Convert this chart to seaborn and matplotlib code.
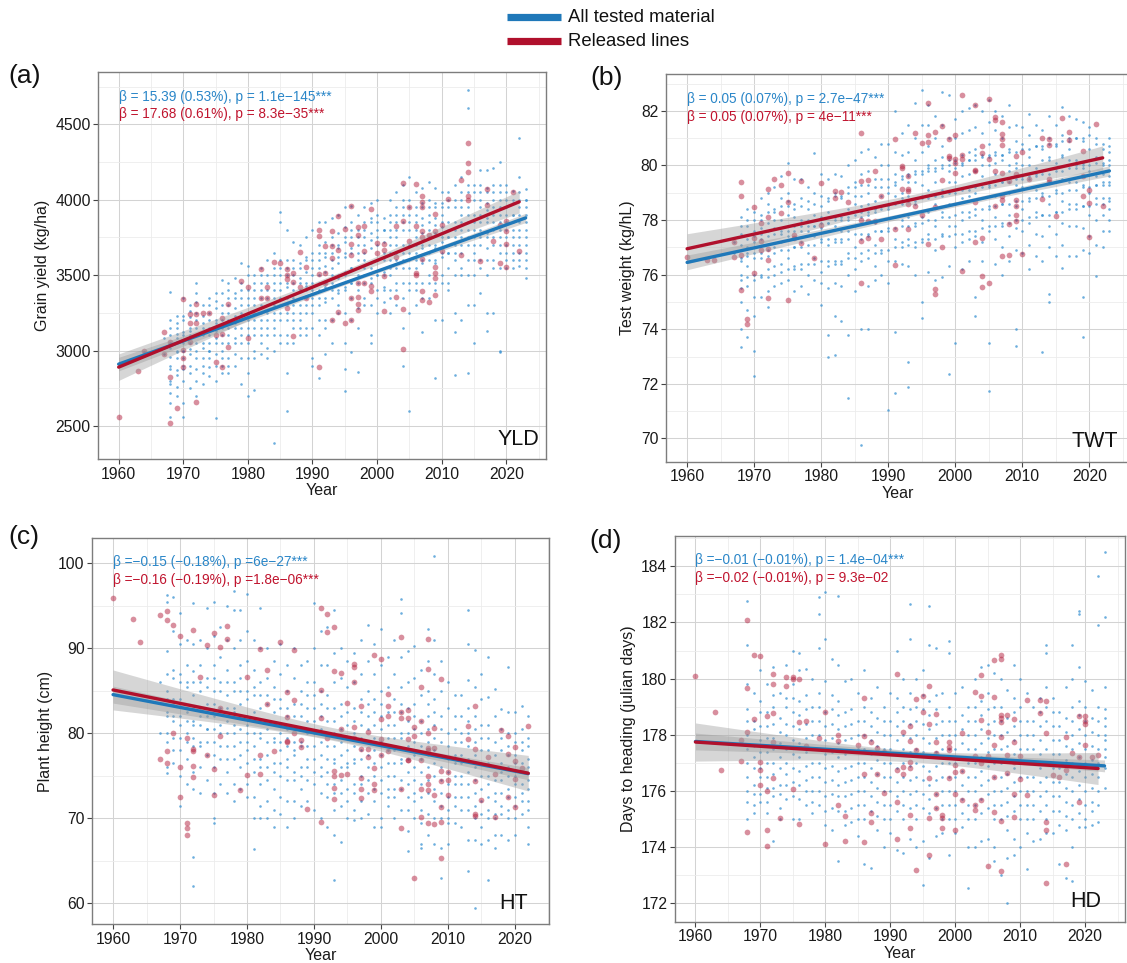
import numpy as np
import pandas as pd
import matplotlib
matplotlib.use("Agg")
import matplotlib.pyplot as plt
from matplotlib.ticker import MultipleLocator
from matplotlib.lines import Line2D
import seaborn as sns

# ---------------------------------------------------------------- data
# Grain yield (kg/ha): scattered lines per year, plus the dense core of each year
yld_all = {
    1964: [2990], 1967: [3080, 2980],
    1968: [3390, 3200, 3050, 2880, 2800, 2720, 2650, 2560, 2960, 3100],
    1969: [3230, 3150, 3000, 2870, 2760, 2700, 3080, 2950],
    1970: [3350, 3200, 3100, 3000, 2900, 2800, 2650, 2560, 3050, 2950],
    1971: [3300, 3220, 3150, 3050, 2980, 2900, 2750, 3100],
    1972: [3450, 3320, 3200, 3100, 3000, 2880, 2700, 3150, 3250],
    1973: [3300, 3180, 3050, 2950, 2850, 2780, 3100],
    1974: [3350, 3250, 3150, 3050, 2950, 2830, 3200, 3000],
    1975: [3380, 3280, 3180, 3080, 2980, 2800, 2550, 3130],
    1976: [3470, 3380, 3250, 3150, 3050, 2950, 2850, 3200],
    1977: [3450, 3350, 3250, 3150, 3050, 2950, 2850, 3300],
    1978: [3480, 3380, 3280, 3180, 3080, 2980, 3230],
    1979: [3580, 3450, 3350, 3250, 3150, 3050, 2780, 3300],
    1980: [3560, 3500, 3400, 3300, 3200, 3100, 2950, 2700, 3250],
    1981: [3500, 3400, 3300, 3200, 3100, 3000, 2740, 3350],
    1982: [3550, 3450, 3350, 3250, 3150, 3050, 3300, 3400],
    1983: [3600, 3500, 3400, 3300, 3200, 3100, 2950, 3350],
    1984: [3650, 3550, 3450, 3350, 3250, 3150, 3000, 2390, 3400],
    1985: [3920, 3850, 3600, 3500, 3400, 3300, 3200, 3050, 3450],
    1986: [3800, 3600, 3500, 3420, 3350, 3250, 3100, 2850, 2600, 3450],
    1987: [3720, 3600, 3500, 3400, 3300, 3200, 3050, 3450],
    1988: [3700, 3580, 3480, 3400, 3300, 3200, 3100, 3450],
    1989: [3750, 3620, 3520, 3430, 3350, 3250, 3150, 3450],
    1990: [3800, 3650, 3550, 3450, 3350, 3250, 2950, 2900, 3500],
    1991: [3850, 3700, 3600, 3500, 3400, 3300, 3200, 2820, 3550],
    1992: [3850, 3720, 3620, 3520, 3420, 3320, 3200, 2980, 3560],
    1993: [3880, 3750, 3650, 3550, 3450, 3350, 3050, 3600],
    1994: [3900, 3780, 3680, 3580, 3480, 3380, 3300, 3620],
    1995: [3950, 3820, 3720, 3620, 3520, 3420, 3050, 2880, 2730, 3650],
    1996: [3960, 3850, 3750, 3650, 3550, 3450, 3350, 2990, 3680],
    1997: [3900, 3800, 3700, 3600, 3500, 3400, 3280, 2860, 3650],
    1998: [3950, 3850, 3750, 3650, 3550, 3450, 3350, 3700],
    1999: [3980, 3880, 3780, 3680, 3580, 3480, 3100, 3050, 3730],
    2000: [4000, 3900, 3800, 3700, 3600, 3500, 3400, 3250, 3750],
    2001: [3880, 3800, 3720, 3620, 3520, 3420, 3320, 3650],
    2002: [4000, 3900, 3800, 3700, 3600, 3500, 3400, 3250, 3750],
    2003: [4050, 3950, 3850, 3750, 3650, 3550, 3450, 3300, 3800],
    2004: [4100, 4000, 3900, 3800, 3700, 3600, 3450, 3150, 2900, 3850],
    2005: [4150, 4000, 3900, 3800, 3700, 3600, 3450, 3250, 2600, 3850],
    2006: [4050, 3950, 3850, 3750, 3650, 3550, 3450, 3300, 3800],
    2007: [4080, 3980, 3880, 3780, 3680, 3580, 3450, 3120, 3830],
    2008: [4120, 4000, 3900, 3800, 3700, 3600, 3500, 3350, 3850],
    2009: [4080, 3980, 3880, 3780, 3680, 3580, 3450, 3200, 2820, 3830],
    2010: [4050, 3980, 3900, 3820, 3720, 3620, 3500, 3200, 3850],
    2011: [4050, 3950, 3850, 3750, 3650, 3550, 3400, 3800],
    2012: [4100, 3950, 3850, 3750, 3650, 3250, 3120, 2840, 3800],
    2013: [4150, 4050, 3950, 3850, 3750, 3650, 3500, 3200, 3900],
    2014: [4730, 4610, 4050, 3950, 3850, 3750, 3600, 3300, 2850, 3900],
    2015: [4100, 4000, 3900, 3800, 3700, 3600, 3300, 3050, 3850],
    2016: [4200, 4100, 4000, 3900, 3800, 3700, 3550, 3380, 3950],
    2017: [4200, 4080, 3980, 3880, 3780, 3680, 3500, 3250, 3130, 3930],
    2018: [4210, 4100, 4000, 3900, 3800, 3700, 3550, 3250, 3950],
    2019: [4250, 4100, 4000, 3900, 3800, 3700, 3550, 3000, 2990, 3950],
    2020: [4100, 4000, 3900, 3800, 3700, 3600, 3550, 3950],
    2021: [4060, 3980, 3900, 3800, 3700, 3600, 3550, 3850],
    2022: [4410, 4150, 4000, 3900, 3800, 3700, 3600, 3560, 3850],
    2023: [4070, 4000, 3950, 3850, 3750, 3650, 3550, 3480, 3900],
}
yld_all_core = {
    1968: [3020, 2900, 3150, 2780], 1969: [3110, 2990, 3180, 2840],
    1970: [3120, 3000, 3230, 2880], 1971: [3130, 3010, 3260, 2850],
    1972: [3050, 2950, 3380, 2800], 1973: [3150, 3020, 3230, 2900],
    1974: [3100, 3000, 3300, 2890], 1975: [3200, 3050, 3330, 2900],
    1976: [3100, 3300, 3000, 2900], 1977: [3200, 3100, 3400, 2900],
    1978: [3150, 3050, 3350, 2900], 1979: [3200, 3100, 3400, 2950],
    1980: [3150, 3350, 3050, 2850], 1981: [3250, 3150, 3450, 2950],
    1982: [3200, 3100, 3500, 2980], 1983: [3250, 3150, 3450, 3020],
    1984: [3300, 3200, 3500, 3100], 1985: [3350, 3250, 3550, 3100],
    1986: [3300, 3200, 3550, 3050], 1987: [3350, 3250, 3550, 3150],
    1988: [3350, 3250, 3550, 3150], 1989: [3400, 3300, 3600, 3100],
    1990: [3400, 3300, 3600, 3150], 1991: [3450, 3350, 3650, 3100],
    1992: [3450, 3350, 3650, 3150], 1993: [3500, 3400, 3700, 3200],
    1994: [3500, 3400, 3700, 3250], 1995: [3500, 3400, 3750, 3250],
    1996: [3550, 3450, 3800, 3200], 1997: [3550, 3450, 3750, 3150],
    1998: [3600, 3500, 3800, 3300], 1999: [3550, 3450, 3850, 3300],
    2000: [3600, 3500, 3850, 3350], 2001: [3600, 3500, 3800, 3400],
    2002: [3650, 3550, 3850, 3350], 2003: [3700, 3600, 3900, 3400],
    2004: [3650, 3550, 3950, 3350], 2005: [3650, 3550, 3950, 3400],
    2006: [3700, 3600, 3900, 3400], 2007: [3700, 3600, 3950, 3350],
    2008: [3750, 3650, 3950, 3450], 2009: [3700, 3600, 3950, 3400],
    2010: [3750, 3650, 3950, 3450], 2011: [3750, 3650, 4000, 3450],
    2012: [3700, 3600, 4000, 3500], 2013: [3800, 3700, 4000, 3550],
    2014: [3800, 3700, 4100, 3500], 2015: [3750, 3650, 4050, 3500],
    2016: [3850, 3750, 4050, 3600], 2017: [3850, 3750, 4050, 3600],
    2018: [3850, 3750, 4050, 3600], 2019: [3850, 3750, 4050, 3650],
    2020: [3850, 3750, 4050, 3650], 2021: [3900, 3750, 4000, 3650],
    2022: [3950, 3750, 4050, 3650], 2023: [3800, 3700, 4000, 3600],
}
yld_rel = {
    1960: [2560], 1963: [2867], 1964: [2997], 1967: [3125, 2975],
    1968: [3055, 2827, 2518], 1969: [2617], 1970: [3340, 3004, 2949, 2893],
    1971: [3240, 3180, 3055], 1972: [3309, 3240, 3180, 2657], 1973: [3250],
    1974: [3247], 1975: [3103, 2927], 1976: [3214, 3108, 2889],
    1977: [3309, 3026], 1979: [3464], 1980: [3420, 3081], 1982: [3539, 3346],
    1983: [3424, 3351], 1984: [3585], 1985: [3578],
    1986: [3539, 3499, 3472, 3280], 1987: [3512, 3457, 3097],
    1988: [3654, 3424], 1989: [3556, 3346], 1991: [3800, 3760, 3508, 2893],
    1992: [3693, 3517, 3446], 1993: [3791, 3693, 3616, 3203],
    1994: [3892, 3667, 3258], 1995: [3804, 3185],
    1996: [3959, 3707, 3631, 3346, 3203],
    1997: [3818, 3764, 3446, 3353, 3307, 3269], 1998: [3827, 3658, 3446],
    1999: [3939, 3431, 3395], 2000: [3711, 3645],
    2001: [3704, 3667, 3497, 3265], 2003: [3826, 3618, 3357],
    2004: [4114, 3861, 3273, 3008], 2005: [3955, 3725],
    2006: [4105, 3826, 3517, 3499],
    2007: [4025, 3985, 3955, 3791, 3751, 3605, 3395, 3335],
    2008: [3764, 3322], 2009: [3906, 3791, 3556, 3517, 3479, 3370],
    2010: [3835, 3662], 2011: [4007], 2013: [4132, 3636],
    2014: [4374, 4243, 4186, 4027, 3998], 2016: [3594], 2017: [4074, 3968],
    2018: [3729], 2019: [3583, 3830], 2020: [3857, 3791, 3704, 3556],
    2021: [4052], 2022: [3662],
}

# Test weight (kg/hL)
twt_all = {
    1967: [77.2, 76.8],
    1968: [78.1, 77.5, 76.5, 75.8, 75.0, 74.0, 73.35, 76.0],
    1969: [78.4, 77.8, 77.0, 76.3, 75.6, 74.7, 73.7, 76.8],
    1970: [78.3, 77.6, 76.8, 76.0, 75.2, 74.5, 73.2, 72.3, 77.2],
    1971: [78.8, 78.0, 77.3, 76.6, 75.9, 75.2, 77.7],
    1972: [79.0, 78.3, 77.6, 76.9, 76.2, 75.4, 74.8, 77.9],
    1973: [79.2, 78.4, 77.7, 77.0, 76.3, 75.6, 78.0],
    1974: [79.6, 78.8, 78.0, 77.2, 76.4, 75.7, 77.6],
    1975: [80.1, 79.0, 78.2, 77.4, 76.6, 75.8, 78.5],
    1976: [79.5, 78.6, 77.8, 77.0, 76.2, 75.4, 78.1],
    1977: [79.5, 78.8, 78.0, 77.2, 76.4, 75.6, 77.6],
    1978: [79.2, 78.4, 77.6, 76.8, 76.0, 75.3, 78.0],
    1979: [80.45, 79.0, 78.2, 77.4, 76.6, 75.8, 77.8],
    1980: [79.7, 78.9, 78.1, 77.3, 76.5, 75.7, 74.9, 77.7],
    1981: [79.5, 78.7, 77.9, 77.1, 76.3, 75.5, 73.8, 73.0, 78.3],
    1982: [79.7, 78.9, 78.1, 77.3, 76.5, 75.7, 74.5, 73.05, 77.8],
    1983: [79.6, 78.8, 78.0, 77.2, 76.4, 75.6, 74.3, 77.6],
    1984: [80.0, 79.2, 78.4, 77.6, 76.8, 76.0, 73.8, 71.5, 78.0],
    1985: [80.2, 79.4, 78.6, 77.8, 77.0, 76.2, 75.4, 78.9],
    1986: [80.5, 79.7, 78.9, 78.1, 77.3, 76.5, 74.0, 69.75, 78.5],
    1987: [80.6, 79.8, 79.0, 78.2, 77.4, 76.6, 75.6, 74.0, 78.6],
    1988: [80.3, 79.5, 78.7, 77.9, 77.1, 76.3, 75.8, 78.3],
    1989: [80.8, 80.0, 79.2, 78.4, 77.6, 76.8, 76.0, 78.9],
    1990: [80.8, 80.0, 79.2, 78.4, 77.6, 76.5, 75.7, 71.05, 79.0],
    1991: [82.0, 80.5, 79.7, 78.9, 78.1, 77.3, 76.5, 73.9, 71.65, 79.3],
    1992: [81.2, 80.4, 79.6, 78.8, 78.0, 77.2, 76.4, 79.0],
    1993: [81.5, 80.5, 79.7, 78.9, 78.1, 77.3, 76.3, 72.8, 71.9, 79.4],
    1994: [82.3, 81.0, 80.2, 79.4, 78.6, 77.8, 77.0, 76.0, 79.8],
    1995: [82.75, 81.5, 80.5, 79.7, 78.9, 78.1, 77.3, 75.0, 74.4, 79.3],
    1996: [82.2, 81.5, 80.7, 79.9, 79.1, 78.3, 77.5, 76.1, 80.0],
    1997: [81.8, 81.0, 80.2, 79.4, 78.6, 77.8, 76.9, 75.8, 79.8],
    1998: [82.7, 81.5, 80.7, 79.9, 79.1, 78.3, 77.5, 75.9, 80.3],
    1999: [82.6, 81.0, 80.2, 79.4, 78.6, 77.8, 76.3, 72.35, 79.8],
    2000: [81.7, 81.0, 80.2, 79.4, 78.6, 77.8, 77.0, 73.5, 79.9],
    2001: [82.0, 81.2, 80.4, 79.6, 78.8, 78.0, 77.2, 76.2, 80.0],
    2002: [82.1, 81.3, 80.5, 79.7, 78.9, 78.1, 77.3, 76.5, 80.2],
    2003: [82.2, 81.4, 80.6, 79.8, 79.0, 78.2, 77.4, 75.2, 74.5, 80.4],
    2004: [82.0, 81.2, 80.4, 79.6, 78.8, 78.0, 77.2, 76.5, 80.0],
    2005: [82.4, 81.6, 80.8, 80.0, 79.2, 78.4, 77.6, 73.5, 71.75, 80.4],
    2006: [82.0, 81.3, 80.5, 79.7, 78.9, 78.1, 77.3, 76.4, 80.1],
    2007: [81.8, 81.0, 80.2, 79.4, 78.6, 77.8, 77.0, 76.0, 80.4],
    2008: [82.2, 81.4, 80.6, 79.8, 79.0, 78.2, 77.4, 76.5, 80.0],
    2009: [81.5, 80.9, 80.1, 79.3, 78.5, 77.7, 76.9, 74.0, 73.4, 79.9],
    2010: [81.4, 80.8, 80.0, 79.2, 78.4, 77.6, 76.8, 79.6],
    2011: [81.9, 81.1, 80.3, 79.5, 78.7, 77.9, 77.1, 76.2, 80.0],
    2012: [81.5, 80.7, 79.9, 79.1, 78.3, 77.5, 76.7, 79.7],
    2013: [81.3, 80.6, 79.8, 79.0, 78.2, 77.4, 76.5, 73.15, 80.2],
    2014: [81.8, 81.0, 80.2, 79.4, 78.6, 77.8, 77.0, 75.3, 75.0, 80.3],
    2015: [81.5, 80.7, 79.9, 79.1, 78.3, 77.5, 76.7, 80.1],
    2016: [82.15, 81.1, 80.3, 79.5, 78.7, 77.9, 77.1, 76.25, 80.4],
    2017: [81.8, 81.0, 80.2, 79.4, 78.6, 77.8, 76.7, 80.6],
    2018: [81.7, 81.0, 80.2, 79.4, 78.6, 77.8, 76.7, 80.0],
    2019: [81.6, 80.9, 80.1, 79.3, 78.5, 77.7, 76.9, 75.2, 73.7, 79.9],
    2020: [81.4, 80.6, 79.8, 79.0, 78.2, 77.4, 76.8, 80.2],
    2021: [81.0, 80.3, 79.6, 78.8, 78.0, 77.1, 75.95, 79.3],
    2022: [80.6, 80.0, 79.4, 78.8, 78.2, 77.6, 77.0, 79.7],
    2023: [81.0, 80.5, 80.0, 79.3, 78.8, 78.4, 78.0, 77.6, 79.6],
}
twt_all_core = {
    1968: [77.1, 76.6, 77.8, 75.5], 1969: [77.3, 76.7, 78.0, 75.9],
    1970: [77.4, 76.6, 78.0, 75.8], 1971: [77.5, 76.8, 78.2, 76.0],
    1972: [77.4, 76.7, 78.6, 75.9], 1973: [77.5, 76.8, 78.3, 76.0],
    1974: [77.5, 76.9, 78.5, 76.1], 1975: [77.6, 76.9, 78.7, 76.2],
    1976: [77.6, 77.0, 78.4, 76.3], 1977: [77.8, 77.0, 78.5, 76.2],
    1978: [77.8, 77.1, 78.7, 76.4], 1979: [77.8, 77.1, 78.6, 76.4],
    1980: [77.9, 77.2, 78.5, 76.1], 1981: [77.9, 77.3, 78.8, 76.5],
    1982: [78.0, 77.2, 79.0, 76.4], 1983: [78.1, 77.3, 78.9, 76.5],
    1984: [78.1, 77.3, 79.0, 76.6], 1985: [78.2, 77.5, 79.2, 76.6],
    1986: [78.3, 77.5, 79.3, 76.8], 1987: [78.3, 77.5, 79.3, 76.9],
    1988: [78.4, 77.6, 79.2, 76.8], 1989: [78.5, 77.6, 79.5, 76.9],
    1990: [78.5, 77.7, 79.5, 76.9], 1991: [78.6, 77.7, 79.4, 77.0],
    1992: [78.6, 77.8, 79.5, 77.0], 1993: [78.7, 77.8, 79.6, 77.1],
    1994: [78.7, 77.9, 79.7, 77.2], 1995: [78.8, 77.9, 79.8, 77.2],
    1996: [78.8, 78.0, 79.8, 77.3], 1997: [78.9, 78.0, 79.9, 77.3],
    1998: [78.9, 78.1, 80.0, 77.4], 1999: [79.0, 78.1, 80.0, 77.4],
    2000: [79.0, 78.2, 80.1, 77.5], 2001: [79.1, 78.3, 80.1, 77.5],
    2002: [79.1, 78.3, 80.2, 77.6], 2003: [79.2, 78.4, 80.2, 77.6],
    2004: [79.2, 78.4, 80.3, 77.7], 2005: [79.3, 78.5, 80.3, 77.8],
    2006: [79.3, 78.5, 80.4, 77.8], 2007: [79.4, 78.6, 80.4, 77.9],
    2008: [79.4, 78.6, 80.5, 77.9], 2009: [79.5, 78.7, 80.5, 78.0],
    2010: [79.5, 78.7, 80.6, 78.0], 2011: [79.6, 78.8, 80.6, 78.1],
    2012: [79.6, 78.8, 80.7, 78.1], 2013: [79.7, 78.9, 80.7, 78.2],
    2014: [79.7, 78.9, 80.8, 78.2], 2015: [79.8, 79.0, 80.8, 78.3],
    2016: [79.8, 79.0, 80.9, 78.3], 2017: [79.9, 79.1, 80.9, 78.4],
    2018: [79.9, 79.1, 81.0, 78.4], 2019: [80.0, 79.2, 81.0, 78.5],
    2020: [80.0, 79.2, 81.1, 78.5], 2021: [80.1, 79.3, 80.8, 78.6],
    2022: [80.1, 79.3, 80.8, 78.6], 2023: [80.2, 79.4, 80.7, 78.7],
}
twt_rel = {
    1960: [76.65], 1963: [76.54], 1964: [76.54], 1967: [76.63, 77.19],
    1968: [79.4, 78.87, 76.72, 75.44], 1969: [74.36, 74.18],
    1970: [78.48, 77.33, 76.07], 1971: [77.89, 77.25, 76.91],
    1972: [79.13, 78.13, 76.94, 76.52, 75.15], 1973: [79.52],
    1974: [79.3, 78.26], 1975: [79.73, 78.66, 75.09], 1976: [77.45, 77.36],
    1977: [79.45, 77.17], 1979: [76.6], 1980: [79.35, 77.82],
    1982: [79.07, 78.8], 1983: [79.02], 1984: [78.66],
    1986: [81.2, 79.42, 78.01, 77.24, 75.7], 1987: [79.48, 77.95, 77.34],
    1988: [79.79, 77.95], 1989: [78.9, 77.31], 1991: [80.96, 77.67, 76.36],
    1992: [79.98, 79.91, 79.14], 1993: [79.6, 79.14, 79.06, 78.6, 77.69],
    1994: [81.18, 78.5], 1995: [80.81, 78.2], 1996: [82.3, 81.1, 80.86, 77.13],
    1997: [81.23, 78.47, 75.46, 75.31], 1998: [81.45, 79.48, 77.0],
    1999: [80.98, 80.34, 80.29], 2000: [81.1, 80.25, 80.1, 79.73],
    2001: [82.59, 80.37, 80.22, 76.15],
    2003: [82.21, 79.85, 79.78, 78.65, 77.18],
    2004: [80.71, 80.47, 77.34, 75.95, 75.56], 2005: [82.45, 80.22, 75.68],
    2006: [81.79, 81.67, 79.79, 78.5],
    2007: [81.6, 81.14, 80.96, 80.76, 79.71, 78.87, 78.75, 76.69],
    2008: [79.42, 77.86, 76.72], 2009: [80.34, 79.67, 78.75, 78.5, 78.2, 77.95],
    2010: [80.49, 76.76], 2011: [79.51], 2013: [81.02, 78.77],
    2014: [80.98, 80.76, 79.51, 79.39], 2015: [78.16], 2016: [81.74],
    2017: [81.23, 80.92], 2019: [80.53, 79.6, 78.87],
    2020: [79.12, 78.63, 77.37], 2021: [81.51], 2022: [78.5],
}

# Plant height (cm)
ht_all = {
    1967: [86.0, 80.0],
    1968: [96.3, 95.5, 89.7, 85.0, 82.0, 79.0, 76.0, 75.3],
    1969: [96.0, 92.0, 87.5, 84.0, 81.5, 78.0, 76.5],
    1970: [94.2, 90.5, 87.0, 84.0, 81.0, 78.0, 75.0, 71.5],
    1971: [91.0, 88.0, 85.5, 82.5, 80.0, 77.0, 74.0],
    1972: [95.3, 90.5, 87.3, 84.5, 81.5, 78.5, 75.5, 73.5, 65.4, 62.0],
    1973: [91.0, 88.0, 85.0, 82.0, 79.0, 76.0, 73.0],
    1974: [94.8, 90.0, 86.5, 83.5, 80.5, 77.5, 74.5],
    1975: [95.5, 91.5, 88.0, 85.0, 82.0, 79.0, 76.0, 73.0, 70.0, 69.5],
    1976: [92.5, 89.0, 86.0, 83.0, 80.0, 77.0, 74.0],
    1977: [95.0, 91.0, 87.5, 84.5, 81.5, 78.5, 75.5, 73.0],
    1978: [96.8, 94.5, 90.0, 86.0, 83.0, 80.0, 77.0, 74.0, 72.0],
    1979: [94.5, 91.0, 88.0, 85.0, 82.0, 79.0, 76.0, 73.5],
    1980: [96.4, 92.0, 88.5, 85.0, 82.0, 79.0, 76.5, 74.0, 72.5],
    1981: [91.0, 87.5, 84.5, 81.5, 78.5, 75.5, 72.5, 70.0, 66.4],
    1982: [94.8, 90.0, 86.0, 83.0, 80.0, 77.0, 74.0, 71.5, 70.0],
    1983: [90.0, 86.5, 83.5, 80.5, 77.5, 74.5, 72.0, 70.0],
    1984: [88.5, 85.5, 82.5, 79.5, 76.5, 73.5, 71.0, 69.0],
    1985: [90.5, 87.0, 84.0, 81.0, 78.0, 75.0, 72.5, 70.5],
    1986: [88.0, 85.0, 82.0, 79.5, 77.0, 74.5, 72.0, 69.0],
    1987: [90.0, 86.5, 83.5, 80.5, 77.5, 74.5, 72.0, 70.0],
    1988: [88.0, 85.0, 82.0, 79.0, 76.0, 73.5, 71.5],
    1989: [88.5, 86.0, 83.0, 80.0, 77.0, 74.5, 72.0],
    1990: [95.3, 90.0, 86.0, 83.0, 80.0, 77.0, 74.0, 71.0],
    1991: [92.0, 88.0, 85.0, 82.0, 79.0, 76.0, 73.0, 70.0],
    1992: [92.5, 88.0, 84.5, 81.5, 78.5, 75.5, 72.5, 69.0],
    1993: [94.5, 89.5, 86.0, 83.0, 80.0, 77.0, 74.0, 71.0, 68.0, 62.7],
    1994: [90.0, 86.5, 83.5, 80.5, 77.5, 74.5, 71.5, 67.2],
    1995: [88.5, 85.5, 82.5, 79.5, 76.5, 73.5, 70.0],
    1996: [89.5, 86.0, 83.0, 80.0, 77.0, 74.0, 71.0, 69.8],
    1997: [91.0, 87.0, 84.0, 81.0, 78.0, 75.0, 72.0, 70.0],
    1998: [92.8, 88.5, 85.0, 82.0, 79.0, 76.0, 73.0, 70.5],
    1999: [90.5, 87.0, 84.0, 81.0, 78.0, 75.0, 72.0, 69.0],
    2000: [92.3, 88.0, 85.0, 82.0, 79.0, 76.0, 73.0, 70.0, 69.0],
    2001: [89.0, 85.5, 82.5, 79.5, 76.5, 73.5, 71.5],
    2002: [91.0, 87.0, 84.0, 81.0, 78.0, 75.0, 72.5, 70.0],
    2003: [95.8, 94.2, 89.0, 85.5, 82.5, 79.5, 76.5, 73.5, 71.0],
    2004: [89.7, 86.0, 83.0, 80.0, 77.0, 74.0, 71.0, 68.5, 66.2],
    2005: [90.3, 86.5, 83.5, 80.5, 77.5, 74.5, 72.0, 70.0],
    2006: [87.5, 84.5, 81.5, 78.5, 75.5, 72.5, 69.5, 67.0, 66.5],
    2007: [92.3, 88.5, 85.0, 82.0, 79.0, 76.0, 73.0, 70.5, 68.0],
    2008: [100.9, 91.0, 87.0, 84.0, 81.0, 78.0, 75.0, 72.0, 70.0, 67.0],
    2009: [88.5, 85.0, 82.0, 79.0, 76.0, 73.0, 70.0, 66.5, 63.0],
    2010: [86.0, 83.0, 80.0, 77.0, 74.0, 71.0, 69.5, 67.0],
    2011: [84.5, 82.0, 79.0, 76.5, 74.0, 71.5, 69.5],
    2012: [84.5, 82.0, 79.0, 76.5, 74.0, 71.0, 69.0],
    2013: [94.5, 90.5, 86.3, 83.0, 80.0, 77.0, 74.0, 71.0, 67.5, 63.8],
    2014: [89.8, 85.5, 82.0, 79.0, 76.0, 73.0, 70.0, 67.5, 59.5],
    2015: [87.0, 84.0, 81.0, 78.0, 75.0, 72.0, 69.0, 67.0],
    2016: [89.0, 84.3, 81.0, 78.0, 75.0, 72.5, 70.0, 67.5, 62.7],
    2017: [85.2, 82.0, 79.0, 76.0, 73.0, 70.5, 68.0, 66.5],
    2018: [82.8, 80.5, 78.0, 75.5, 73.0, 70.5, 68.0],
    2019: [87.8, 82.5, 80.0, 77.5, 75.0, 72.5, 70.0, 67.5],
    2020: [82.5, 80.0, 77.5, 75.0, 72.5, 70.0, 68.0],
    2021: [83.2, 80.5, 78.0, 75.5, 73.0, 70.5],
    2022: [82.0, 79.5, 77.0, 74.5, 72.0, 69.0, 67.0],
}
ht_all_core = {
    1968: [84.0, 82.5, 87.0, 80.0], 1969: [83.5, 82.0, 86.5, 79.5],
    1970: [83.5, 82.0, 86.0, 79.5], 1971: [83.0, 81.5, 86.0, 79.0],
    1972: [83.0, 81.0, 86.0, 79.5], 1973: [83.0, 81.0, 86.0, 78.5],
    1974: [82.0, 80.5, 85.5, 79.0], 1975: [83.5, 80.5, 86.5, 77.5],
    1976: [82.5, 81.0, 85.0, 78.5], 1977: [83.0, 80.0, 86.0, 77.0],
    1978: [82.5, 81.0, 85.0, 78.5], 1979: [83.5, 80.5, 86.5, 77.5],
    1980: [81.0, 80.0, 84.0, 78.0], 1981: [82.5, 80.0, 85.5, 77.0],
    1982: [81.5, 79.5, 84.5, 76.0], 1983: [81.5, 79.0, 84.5, 76.0],
    1984: [81.0, 79.0, 84.0, 75.5], 1985: [80.0, 79.0, 83.0, 76.5],
    1986: [80.5, 78.5, 83.0, 76.0], 1987: [79.0, 78.0, 82.0, 75.5],
    1988: [80.5, 78.5, 83.5, 75.0], 1989: [81.5, 78.5, 84.5, 76.0],
    1990: [81.5, 78.5, 84.5, 75.5], 1991: [80.5, 77.5, 83.5, 75.0],
    1992: [80.0, 77.0, 83.0, 74.0], 1993: [78.5, 76.5, 81.5, 73.0],
    1994: [79.0, 76.0, 82.0, 73.0], 1995: [78.0, 76.0, 81.0, 72.0],
    1996: [78.5, 76.5, 81.5, 73.0], 1997: [79.5, 77.0, 82.5, 74.0],
    1998: [80.5, 77.5, 83.5, 74.5], 1999: [79.5, 76.5, 82.5, 73.5],
    2000: [80.5, 77.5, 83.5, 74.5], 2001: [78.0, 75.0, 81.0, 72.5],
    2002: [79.5, 76.5, 82.5, 73.5], 2003: [80.0, 77.0, 83.5, 74.5],
    2004: [78.5, 75.5, 81.5, 72.5], 2005: [79.0, 76.0, 82.0, 73.0],
    2006: [77.0, 74.0, 80.0, 71.0], 2007: [80.5, 77.5, 83.5, 74.5],
    2008: [79.5, 76.5, 82.5, 73.5], 2009: [77.5, 74.5, 80.5, 71.5],
    2010: [75.5, 72.5, 78.5, 70.0], 2011: [77.5, 75.0, 80.5, 72.5],
    2012: [77.5, 75.0, 80.0, 72.5], 2013: [78.5, 75.5, 81.5, 72.5],
    2014: [77.5, 74.5, 80.5, 71.5], 2015: [76.5, 73.5, 79.5, 70.5],
    2016: [76.5, 74.0, 79.5, 71.0], 2017: [74.5, 72.0, 77.5, 70.0],
    2018: [76.5, 74.5, 79.5, 71.5], 2019: [76.0, 73.5, 78.5, 71.0],
    2020: [76.5, 74.0, 79.0, 71.5], 2021: [76.5, 74.0, 79.0, 72.0],
    2022: [76.0, 73.5, 78.5, 71.0],
}
ht_rel = {
    1960: [95.9], 1963: [93.45], 1964: [90.75], 1967: [93.9, 77.0],
    1968: [94.4, 93.3, 77.96, 76.47], 1969: [92.8, 80.04],
    1970: [91.4, 76.04, 72.5], 1971: [79.45, 69.5, 68.8, 68.0],
    1972: [92.1, 78.1, 77.9, 76.2, 74.8], 1973: [86.6], 1974: [90.4, 77.4],
    1975: [91.8, 75.8, 72.75], 1976: [90.2, 83.0, 79.65], 1977: [92.6, 91.1],
    1979: [73.3], 1980: [86.6, 75.1], 1982: [89.96, 77.5, 75.2],
    1983: [87.4, 83.4], 1984: [77.96], 1985: [90.7],
    1986: [84.9, 81.9, 79.1, 79.0], 1987: [89.8, 83.9, 80.0],
    1988: [79.2, 78.35], 1989: [71.1], 1991: [94.7, 85.1, 81.8, 69.6],
    1992: [94.0, 91.9, 79.5], 1993: [92.55, 87.3, 75.6, 74.98, 73.6, 72.3],
    1994: [87.1, 80.5, 75.1], 1995: [83.6, 75.2],
    1996: [88.2, 87.8, 86.0, 80.7, 79.5], 1997: [83.2, 78.2, 74.7, 73.5, 72.4],
    1998: [80.2, 78.2, 77.2], 1999: [89.25, 75.9, 74.0, 73.3],
    2000: [88.7, 81.7, 79.3, 77.5], 2001: [84.6, 83.2, 82.0, 77.9],
    2003: [91.3, 82.5, 81.8, 73.5, 68.9], 2004: [82.7, 81.8, 79.3, 76.9, 76.8],
    2005: [80.7, 79.7, 63.0], 2006: [85.5, 81.5, 76.8, 73.5, 70.2],
    2007: [91.1, 87.6, 80.0, 78.3, 78.0, 75.0, 74.0, 73.3, 69.4],
    2008: [80.6, 78.3, 72.7, 69.3], 2009: [86.4, 75.6, 74.35, 71.3, 69.6, 65.3],
    2010: [75.5, 74.55, 72.7], 2013: [80.9, 79.3],
    2014: [83.25, 78.2, 74.4, 70.5, 70.3], 2015: [72.1], 2016: [77.25],
    2017: [75.2, 70.2], 2018: [80.4], 2019: [79.7, 77.6, 72.5],
    2020: [78.35, 76.7, 74.6, 71.3], 2021: [75.9], 2022: [80.9],
}

# Days to heading (julian days)
hd_all = {
    1968: [182.75, 181.2, 179.8, 178.9, 178.0, 177.0, 176.0, 175.0],
    1969: [179.5, 178.5, 177.6, 176.8, 175.9, 175.5],
    1970: [180.3, 179.2, 178.3, 177.4, 176.5, 175.6],
    1971: [179.8, 178.8, 177.9, 177.0, 176.1, 175.2],
    1972: [180.4, 179.4, 178.4, 177.5, 176.6, 175.8, 174.2],
    1973: [179.5, 178.6, 177.7, 176.8, 175.9, 175.0],
    1974: [180.5, 179.3, 178.4, 177.5, 176.6, 175.7],
    1975: [181.0, 179.8, 178.8, 177.8, 176.8, 175.8, 175.0],
    1976: [180.9, 180.3, 179.2, 178.2, 177.2, 176.2, 175.0],
    1977: [180.35, 179.4, 178.4, 177.4, 176.4, 175.5],
    1978: [180.0, 179.0, 178.0, 177.0, 176.0, 175.2],
    1979: [182.9, 182.3, 181.1, 179.5, 178.5, 177.5, 176.5, 175.5],
    1980: [183.1, 181.4, 179.9, 178.8, 177.8, 176.8, 175.8, 174.8],
    1981: [180.7, 179.4, 178.4, 177.4, 176.4, 175.4, 174.6],
    1982: [182.95, 180.5, 179.2, 178.2, 177.2, 176.2, 175.3, 173.5],
    1983: [179.9, 178.8, 177.8, 176.8, 175.8, 174.8],
    1984: [180.0, 178.9, 177.9, 176.9, 175.9, 174.9],
    1985: [179.5, 178.5, 177.5, 176.5, 175.5, 174.4],
    1986: [180.3, 179.0, 178.0, 177.0, 176.0, 175.0, 173.4],
    1987: [179.3, 178.3, 177.3, 176.3, 175.3, 173.25],
    1988: [179.7, 178.6, 177.6, 176.6, 175.6, 174.6],
    1989: [179.0, 178.0, 177.0, 176.0, 175.0, 174.0],
    1990: [179.5, 178.5, 177.5, 176.5, 175.5, 174.5],
    1991: [181.0, 179.3, 178.3, 177.3, 176.3, 175.3, 173.9],
    1992: [180.0, 179.0, 178.0, 177.0, 176.0, 175.0, 173.8],
    1993: [182.65, 181.4, 179.5, 178.4, 177.4, 176.4, 175.4, 174.3],
    1994: [180.0, 179.0, 178.0, 177.0, 176.0, 175.0, 174.0],
    1995: [180.3, 179.4, 178.4, 177.4, 176.4, 175.4, 174.2, 172.65],
    1996: [182.6, 181.2, 179.2, 178.2, 177.2, 176.2, 175.2, 173.6],
    1997: [181.1, 179.4, 178.4, 177.4, 176.4, 175.4, 174.4],
    1998: [179.5, 178.5, 177.5, 176.5, 175.5, 174.5],
    1999: [181.35, 180.9, 179.0, 178.0, 177.0, 176.0, 175.0, 173.7],
    2000: [179.5, 178.5, 177.5, 176.5, 175.5, 174.5],
    2001: [179.7, 178.7, 177.7, 176.7, 175.7, 174.7],
    2002: [179.0, 178.0, 177.0, 176.0, 175.0, 174.0, 172.55],
    2003: [180.0, 179.0, 178.0, 177.0, 176.0, 175.0, 174.0],
    2004: [180.4, 179.2, 178.2, 177.2, 176.2, 175.2, 174.2],
    2005: [180.5, 179.5, 178.4, 177.4, 176.4, 175.4, 174.3],
    2006: [180.2, 179.0, 178.0, 177.0, 176.0, 175.0, 174.0, 173.5],
    2007: [180.0, 179.0, 178.0, 177.0, 176.0, 175.0, 173.0],
    2008: [179.6, 178.6, 177.6, 176.6, 175.6, 174.6, 173.6, 172.0],
    2009: [180.5, 179.3, 178.3, 177.3, 176.3, 175.3, 174.3, 173.7],
    2010: [180.0, 179.0, 178.0, 177.0, 176.0, 175.0, 174.0],
    2011: [179.5, 178.5, 177.5, 176.5, 175.5, 174.5, 173.2],
    2012: [179.0, 178.0, 177.0, 176.0, 175.0, 174.2],
    2013: [179.3, 178.3, 177.3, 176.3, 175.3, 174.3],
    2014: [181.2, 180.9, 179.7, 178.5, 177.5, 176.5, 175.5, 174.5],
    2015: [179.3, 178.3, 177.3, 176.3, 175.3, 174.5],
    2016: [178.8, 177.8, 176.8, 175.8, 174.8, 173.4],
    2017: [179.7, 178.6, 177.6, 176.6, 175.6, 174.6, 172.9],
    2018: [181.2, 180.0, 179.0, 178.0, 177.0, 176.0, 175.0, 174.0, 172.8],
    2019: [182.4, 182.3, 180.4, 179.2, 178.2, 177.2, 176.2, 175.2, 174.7],
    2020: [179.9, 179.0, 178.0, 177.0, 176.0, 175.0, 174.7],
    2021: [179.6, 178.6, 177.6, 176.6, 175.6, 174.8],
    2022: [183.65, 181.9, 179.0, 178.0, 177.0, 176.0, 174.9],
    2023: [184.5, 182.2, 179.7, 178.9, 178.0, 177.5, 176.8, 176.1],
}
hd_all_core = {
    1968: [177.5, 176.5, 178.5, 175.6], 1969: [177.2, 176.2, 178.2, 175.2],
    1970: [177.8, 176.8, 178.8, 175.9], 1971: [177.4, 176.5, 178.3, 175.6],
    1972: [177.9, 177.0, 179.0, 176.1], 1973: [177.2, 176.2, 178.1, 175.4],
    1974: [178.0, 177.0, 179.0, 176.2], 1975: [178.3, 177.3, 179.3, 176.3],
    1976: [177.7, 176.7, 178.7, 175.7], 1977: [177.9, 176.9, 178.9, 176.0],
    1978: [177.5, 176.5, 178.5, 175.6], 1979: [178.0, 177.0, 179.0, 176.0],
    1980: [177.3, 176.3, 178.3, 175.3], 1981: [177.9, 176.9, 178.9, 175.9],
    1982: [177.7, 176.7, 178.7, 175.8], 1983: [177.3, 176.3, 178.3, 175.3],
    1984: [177.4, 176.4, 178.4, 175.4], 1985: [177.0, 176.0, 178.0, 175.0],
    1986: [177.5, 176.5, 178.5, 175.5], 1987: [177.8, 176.8, 178.8, 175.8],
    1988: [177.1, 176.1, 178.1, 175.1], 1989: [177.5, 176.5, 178.5, 175.5],
    1990: [177.0, 176.0, 178.0, 175.0], 1991: [177.8, 176.8, 178.8, 175.8],
    1992: [177.5, 176.5, 178.5, 175.5], 1993: [177.9, 176.9, 178.9, 175.9],
    1994: [177.5, 176.5, 178.5, 175.5], 1995: [177.9, 176.9, 178.9, 175.9],
    1996: [177.7, 176.7, 178.7, 175.7], 1997: [177.9, 176.9, 178.9, 175.9],
    1998: [177.0, 176.0, 178.0, 175.0], 1999: [177.5, 176.5, 178.5, 175.5],
    2000: [177.0, 176.0, 178.0, 175.0], 2001: [177.2, 176.2, 178.2, 175.2],
    2002: [177.5, 176.5, 178.5, 175.5], 2003: [177.5, 176.5, 178.5, 175.5],
    2004: [177.7, 176.7, 178.7, 175.7], 2005: [177.9, 176.9, 178.9, 175.9],
    2006: [177.5, 176.5, 178.5, 175.5], 2007: [177.5, 176.5, 178.5, 175.5],
    2008: [177.1, 176.1, 178.1, 175.1], 2009: [177.8, 176.8, 178.8, 175.8],
    2010: [177.5, 176.5, 178.5, 175.5], 2011: [177.0, 176.0, 178.0, 175.0],
    2012: [177.5, 176.5, 178.5, 175.5], 2013: [177.8, 176.8, 178.8, 175.8],
    2014: [177.0, 176.0, 179.0, 175.0], 2015: [177.8, 176.8, 178.8, 175.8],
    2016: [177.3, 176.3, 178.3, 175.3], 2017: [177.1, 176.1, 178.1, 175.1],
    2018: [177.5, 176.5, 178.5, 175.5], 2019: [177.7, 176.7, 178.7, 175.7],
    2020: [177.5, 176.5, 178.5, 175.5], 2021: [177.1, 176.1, 178.1, 175.3],
    2022: [177.5, 176.5, 178.5, 175.5], 2023: [178.3, 177.8, 178.6, 177.2],
}
hd_rel = {
    1960: [180.1], 1963: [178.8], 1964: [176.76], 1967: [177.8, 177.05],
    1968: [182.1, 179.67, 178.09, 174.53], 1969: [180.85, 178.56],
    1970: [180.8, 177.04, 176.75, 176.21], 1971: [178.66, 176.0, 174.6, 174.02],
    1972: [180.17, 179.8, 178.77, 177.73, 176.45], 1973: [175.03],
    1974: [180.05, 179.75], 1975: [180.05, 180.0, 176.07],
    1976: [180.0, 178.44, 174.82], 1977: [178.48, 177.6], 1979: [177.88],
    1980: [178.8, 174.1], 1982: [177.99, 177.78, 175.5], 1983: [175.1, 174.2],
    1985: [177.65], 1986: [179.3, 177.97, 176.6, 174.17],
    1987: [177.73, 175.2, 174.88], 1988: [177.52, 176.6], 1989: [177.4, 175.92],
    1991: [180.17, 176.76, 175.6, 174.3], 1992: [178.09, 176.84, 176.6],
    1993: [178.3, 177.79, 177.04, 176.83, 175.15, 174.67],
    1994: [179.28, 177.47, 173.19], 1995: [179.37, 178.8],
    1996: [179.75, 178.39, 176.45, 175.03, 173.72],
    1997: [178.74, 177.73, 177.34, 175.9, 175.38],
    1998: [175.15, 175.04, 174.67], 1999: [177.73, 177.55, 177.47, 176.45],
    2000: [176.93, 176.66, 175.9, 174.6], 2001: [178.05, 176.72, 175.68],
    2003: [179.51, 177.26, 175.5, 175.32],
    2004: [180.13, 179.39, 178.53, 176.99, 175.68], 2005: [178.11, 177.26, 173.34],
    2006: [180.65, 179.34, 177.65, 176.49, 175.26],
    2007: [180.85, 180.7, 178.7, 178.59, 178.47, 177.93, 174.94, 173.16],
    2008: [178.7, 177.28, 176.64], 2009: [178.56, 177.73, 177.02, 175.9, 175.06],
    2010: [177.26, 176.43], 2011: [179.24, 175.86], 2013: [179.22, 178.77],
    2014: [179.19, 178.05, 174.88, 174.62, 172.71], 2015: [176.57],
    2016: [176.49], 2017: [177.91, 176.75, 173.4], 2018: [177.34],
    2019: [178.65, 177.2, 175.62], 2020: [178.68, 178.5, 178.39, 177.65],
    2021: [177.2], 2022: [177.28],
}

# Linear trends: [all tested material, released lines]
yld_fit_1960 = [2910, 2890]
yld_beta = [15.39, 17.68]
yld_pct = ["0.53", "0.61"]
yld_p = ["1.1e−145***", "8.3e−35***"]
yld_ci_center_year = [1998, 1994]
yld_ci_mid = [12, 25]
yld_ci_1960 = [45, 88]

twt_fit_1960 = [76.45, 76.95]
twt_beta = [0.0532, 0.0537]
twt_pct = ["0.07", "0.07"]
twt_p = ["2.7e−47***", "4e−11***"]
twt_ci_center_year = [1998, 1995]
twt_ci_mid = [0.09, 0.18]
twt_ci_1960 = [0.27, 0.55]

ht_fit_1960 = [84.55, 85.1]
ht_beta = [-0.15, -0.158]
ht_pct = ["−0.18", "−0.19"]
ht_p = ["6e−27***", "1.8e−06***"]
ht_ci_center_year = [1997, 1993]
ht_ci_mid = [0.35, 0.75]
ht_ci_1960 = [1.0, 2.35]

hd_fit_1960 = [177.76, 177.74]
hd_beta = [-0.0138, -0.0152]
hd_pct = ["−0.01", "−0.01"]
hd_p = ["1.4e−04***", "9.3e−02"]
hd_ci_center_year = [1998, 1994]
hd_ci_mid = [0.10, 0.20]
hd_ci_1960 = [0.30, 0.68]

series_names = ["All tested material", "Released lines"]

# ---------------------------------------------------------------- style
BLUE = "#1f78b9"
RED = "#b0102c"
BLUE_TXT = "#2a86c8"
RED_TXT = "#c0142e"
PT_BLUE = "#3b93d3"
PT_RED = "#b3203f"

sns.set_style("white")
plt.rcParams["font.family"] = ["Liberation Sans", "DejaVu Sans"]

W, H = 1127, 963
fig = plt.figure(figsize=(W / 100, H / 100), dpi=100)


def rect(left, top, right, bottom):
    return [left / W, 1 - bottom / H, (right - left) / W, (bottom - top) / H]


def frame(*dicts):
    rows = [(yr, v) for d in dicts for yr, vals in d.items() for v in vals]
    return pd.DataFrame(rows, columns=["Year", "value"])


panels = [
    dict(tag="(a)", code="YLD", ylabel="Grain yield (kg/ha)",
         all=(yld_all, yld_all_core), rel=yld_rel, fit=yld_fit_1960,
         beta=yld_beta, pct=yld_pct, p=yld_p, cc=yld_ci_center_year,
         cm=yld_ci_mid, c0=yld_ci_1960, fmt="β = {b} ({pct}%), p = {p}",
         ylim=(2279, 4845), major=500, minor=250,
         box=rect(98.3, 72.3, 546, 459.3), tagpos=(8, 76.5), codex=0.984),
    dict(tag="(b)", code="TWT", ylabel="Test weight (kg/hL)",
         all=(twt_all, twt_all_core), rel=twt_rel, fit=twt_fit_1960,
         beta=twt_beta, pct=twt_pct, p=twt_p, cc=twt_ci_center_year,
         cm=twt_ci_mid, c0=twt_ci_1960, fmt="β = {b} ({pct}%), p = {p}",
         ylim=(69.15, 83.34), major=2, minor=1,
         box=rect(666, 74.3, 1130.5, 461.7), tagpos=(590, 77.5), codex=0.974),
    dict(tag="(c)", code="HT", ylabel="Plant height (cm)",
         all=(ht_all, ht_all_core), rel=ht_rel, fit=ht_fit_1960,
         beta=ht_beta, pct=ht_pct, p=ht_p, cc=ht_ci_center_year,
         cm=ht_ci_mid, c0=ht_ci_1960, fmt="β ={b} ({pct}%), p ={p}",
         ylim=(57.56, 102.98), major=10, minor=5,
         box=rect(92.3, 538, 549, 924), tagpos=(8, 537), codex=0.953),
    dict(tag="(d)", code="HD", ylabel="Days to heading (julian days)",
         all=(hd_all, hd_all_core), rel=hd_rel, fit=hd_fit_1960,
         beta=hd_beta, pct=hd_pct, p=hd_p, cc=hd_ci_center_year,
         cm=hd_ci_mid, c0=hd_ci_1960, fmt="β ={b} ({pct}%), p = {p}",
         ylim=(171.34, 185.09), major=2, minor=1,
         box=rect(675, 535.7, 1125, 921.7), tagpos=(589, 541), codex=0.948),
]

for P in panels:
    ax = fig.add_axes(P["box"])
    df_all = frame(*P["all"])
    df_rel = frame(P["rel"])
    x_hi = max(df_all["Year"].max(), df_rel["Year"].max())

    sns.scatterplot(data=df_all, x="Year", y="value", ax=ax, color=PT_BLUE,
                    s=3.5, linewidth=0, alpha=0.75, zorder=2, legend=False)
    sns.scatterplot(data=df_rel, x="Year", y="value", ax=ax, color=PT_RED,
                    s=17, linewidth=0, alpha=0.5, zorder=3, legend=False)

    # confidence bands, then the fitted trends on top
    for i, df in enumerate([df_all, df_rel]):
        yrs = np.linspace(1960, df["Year"].max(), 200)
        fit = P["fit"][i] + P["beta"][i] * (yrs - 1960)
        k = (P["c0"][i] ** 2 - P["cm"][i] ** 2) / (1960 - P["cc"][i]) ** 2
        hw = np.sqrt(P["cm"][i] ** 2 + k * (yrs - P["cc"][i]) ** 2)
        ax.fill_between(yrs, fit - hw, fit + hw, color="#9a9a9a", alpha=0.4,
                        linewidth=0, zorder=4)
    for i, (df, col) in enumerate([(df_all, BLUE), (df_rel, RED)]):
        yrs = np.array([1960, df["Year"].max()])
        line = pd.DataFrame({"Year": yrs,
                             "value": P["fit"][i] + P["beta"][i] * (yrs - 1960)})
        sns.lineplot(data=line, x="Year", y="value", ax=ax, color=col,
                     linewidth=2.4, zorder=5 + i)

    # trend annotations
    for i, col in enumerate([BLUE_TXT, RED_TXT]):
        b = f"{P['beta'][i]:.2f}".replace("-", "−")
        txt = P["fmt"].format(b=b, pct=P["pct"][i], p=P["p"][i])
        ax.text(1960, [0.937, 0.891][i], txt, color=col, fontsize=9.8,
                ha="left", va="center", transform=ax.get_xaxis_transform(),
                zorder=8)

    ax.text(P["codex"], 0.052, P["code"], transform=ax.transAxes,
            ha="right", va="center", fontsize=15.5, color="#111111", zorder=8)

    ax.set_xlim(1960 - 0.05 * (x_hi - 1960), x_hi + 0.05 * (x_hi - 1960))
    ax.set_ylim(*P["ylim"])
    ax.xaxis.set_major_locator(MultipleLocator(10))
    ax.xaxis.set_minor_locator(MultipleLocator(5))
    ax.yaxis.set_major_locator(MultipleLocator(P["major"]))
    ax.yaxis.set_minor_locator(MultipleLocator(P["minor"]))
    ax.grid(which="major", color="#d3d3d3", linewidth=0.75)
    ax.grid(which="minor", color="#ececec", linewidth=0.6)
    ax.set_axisbelow(True)
    ax.tick_params(which="major", bottom=True, left=True, direction="out",
                   length=3.5, width=0.8, color="#444444", labelsize=11.3,
                   labelcolor="#1a1a1a", pad=2)
    ax.tick_params(which="minor", bottom=False, left=False, length=0)
    for sp in ax.spines.values():
        sp.set_color("#7d7d7d")
        sp.set_linewidth(1.0)
    ax.set_xlabel("Year", fontsize=11.5, color="#1a1a1a", labelpad=1)
    ax.set_ylabel(P["ylabel"], fontsize=11.5, color="#1a1a1a", labelpad=4)

    tx, ty = P["tagpos"]
    fig.text(tx / W, 1 - ty / H, P["tag"], fontsize=19, ha="left",
             va="center", color="#111111")

# legend at the top
for j, (col, yc) in enumerate([(BLUE, 17), (RED, 41)]):
    fig.add_artist(Line2D([507 / W, 561 / W], [1 - yc / H, 1 - yc / H],
                          color=col, linewidth=5.2, solid_capstyle="butt"))
    fig.text(568 / W, 1 - yc / H, series_names[j], fontsize=13.3,
             ha="left", va="center", color="#111111")

fig.savefig("out.png", dpi=100)
